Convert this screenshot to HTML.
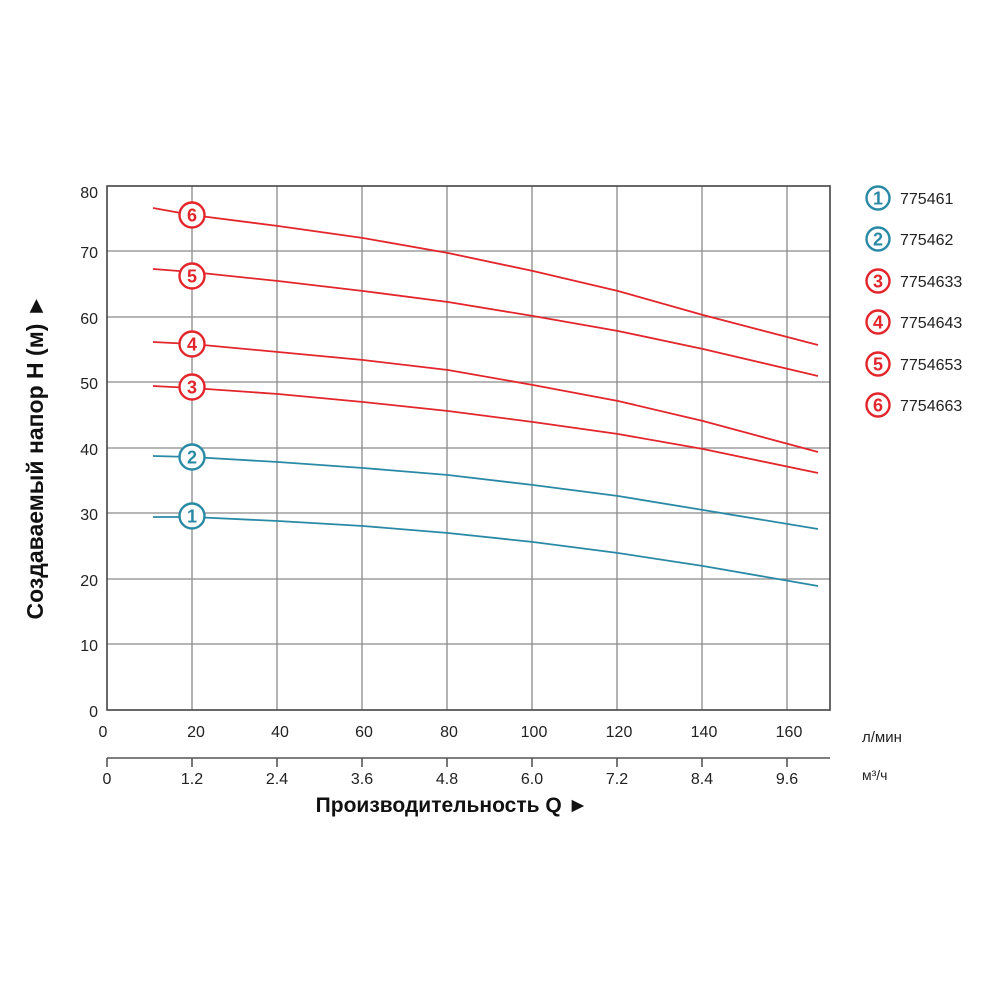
<!DOCTYPE html><html><head><meta charset="utf-8"><style>body{margin:0;background:#fff}svg{display:block}text{font-family:"Liberation Sans",Arial,sans-serif}</style></head><body>
<svg width="1000" height="1000" viewBox="0 0 1000 1000">
<g stroke="#8a8a8a" stroke-width="1.3">
<line x1="192" y1="186" x2="192" y2="710"/><line x1="277" y1="186" x2="277" y2="710"/><line x1="362" y1="186" x2="362" y2="710"/><line x1="447" y1="186" x2="447" y2="710"/><line x1="532" y1="186" x2="532" y2="710"/><line x1="617" y1="186" x2="617" y2="710"/><line x1="702" y1="186" x2="702" y2="710"/><line x1="787" y1="186" x2="787" y2="710"/>
<line x1="107" y1="644" x2="830" y2="644"/><line x1="107" y1="579" x2="830" y2="579"/><line x1="107" y1="513" x2="830" y2="513"/><line x1="107" y1="448" x2="830" y2="448"/><line x1="107" y1="382" x2="830" y2="382"/><line x1="107" y1="317" x2="830" y2="317"/><line x1="107" y1="251" x2="830" y2="251"/>
</g>
<rect x="107" y="186" width="723" height="524" fill="none" stroke="#444" stroke-width="1.6"/>
<g stroke="#555" stroke-width="1.6"><line x1="107" y1="758" x2="830" y2="758"/>
<line x1="107" y1="758" x2="107" y2="767"/><line x1="192" y1="758" x2="192" y2="767"/><line x1="277" y1="758" x2="277" y2="767"/><line x1="362" y1="758" x2="362" y2="767"/><line x1="447" y1="758" x2="447" y2="767"/><line x1="532" y1="758" x2="532" y2="767"/><line x1="617" y1="758" x2="617" y2="767"/><line x1="702" y1="758" x2="702" y2="767"/><line x1="787" y1="758" x2="787" y2="767"/></g>
<g font-size="16" fill="#222" text-anchor="end">
<text x="98" y="198">80</text><text x="98" y="258">70</text><text x="98" y="324">60</text><text x="98" y="389">50</text><text x="98" y="455">40</text><text x="98" y="520">30</text><text x="98" y="586">20</text><text x="98" y="651">10</text><text x="98" y="717">0</text></g>
<g font-size="16" fill="#222" text-anchor="middle">
<text x="103" y="737">0</text><text x="196" y="737">20</text><text x="280" y="737">40</text><text x="364" y="737">60</text><text x="449" y="737">80</text><text x="534" y="737">100</text><text x="619" y="737">120</text><text x="704" y="737">140</text><text x="789" y="737">160</text>
<text x="107" y="784">0</text><text x="192" y="784">1.2</text><text x="277" y="784">2.4</text><text x="362" y="784">3.6</text><text x="447" y="784">4.8</text><text x="532" y="784">6.0</text><text x="617" y="784">7.2</text><text x="702" y="784">8.4</text><text x="787" y="784">9.6</text></g>
<text x="862" y="742" font-size="15" fill="#222">л/мин</text>
<text x="862" y="780" font-size="14" fill="#222">м³/ч</text>
<text x="452" y="812" font-size="21" font-weight="bold" fill="#111" text-anchor="middle">Производительность Q ►</text>
<text transform="translate(43,457) rotate(-90)" font-size="23" font-weight="bold" fill="#111" text-anchor="middle">Создаваемый напор H (м) ►</text>
<g fill="none" stroke-width="1.8">
<polyline stroke="#e2262b" points="153,208 192,215 278,226 363,238 448,253 533,271 618,291 703,315 818,345"/>
<polyline stroke="#e2262b" points="153,269 192,272 278,281 363,291 448,302 533,316 618,331 703,349 818,376"/>
<polyline stroke="#e2262b" points="153,342 192,344 278,352 363,360 448,370 533,385 618,401 703,421 818,452"/>
<polyline stroke="#e2262b" points="153,386 192,388 278,394 363,402 448,411 533,422 618,434 703,449 818,473"/>
<polyline stroke="#2a8aa6" points="153,456 192,457 278,462 363,468 448,475 533,485 618,496 703,510 818,529"/>
<polyline stroke="#2a8aa6" points="153,517 192,517 278,521 363,526 448,533 533,542 618,553 703,566 818,586"/>
</g>
<g stroke-width="2.4" fill="#fff" font-size="18" font-weight="bold" text-anchor="middle">
<circle cx="192" cy="215" r="12.5" stroke="#e2262b"/><text x="192" y="221.5" fill="#e2262b" stroke="none">6</text>
<circle cx="192" cy="276" r="12.5" stroke="#e2262b"/><text x="192" y="282.5" fill="#e2262b" stroke="none">5</text>
<circle cx="192" cy="344" r="12.5" stroke="#e2262b"/><text x="192" y="350.5" fill="#e2262b" stroke="none">4</text>
<circle cx="192" cy="387" r="12.5" stroke="#e2262b"/><text x="192" y="393.5" fill="#e2262b" stroke="none">3</text>
<circle cx="192" cy="457" r="12.5" stroke="#2a8aa6"/><text x="192" y="463.5" fill="#2a8aa6" stroke="none">2</text>
<circle cx="192" cy="516" r="12.5" stroke="#2a8aa6"/><text x="192" y="522.5" fill="#2a8aa6" stroke="none">1</text>
<circle cx="878" cy="198" r="11.5" stroke="#2a8aa6"/><text x="878" y="204.5" fill="#2a8aa6" stroke="none">1</text>
<circle cx="878" cy="239" r="11.5" stroke="#2a8aa6"/><text x="878" y="245.5" fill="#2a8aa6" stroke="none">2</text>
<circle cx="878" cy="281" r="11.5" stroke="#e2262b"/><text x="878" y="287.5" fill="#e2262b" stroke="none">3</text>
<circle cx="878" cy="322" r="11.5" stroke="#e2262b"/><text x="878" y="328.5" fill="#e2262b" stroke="none">4</text>
<circle cx="878" cy="364" r="11.5" stroke="#e2262b"/><text x="878" y="370.5" fill="#e2262b" stroke="none">5</text>
<circle cx="878" cy="405" r="11.5" stroke="#e2262b"/><text x="878" y="411.5" fill="#e2262b" stroke="none">6</text>
</g>
<g font-size="16" fill="#222">
<text x="900" y="204">775461</text><text x="900" y="245">775462</text><text x="900" y="287">7754633</text><text x="900" y="328">7754643</text><text x="900" y="370">7754653</text><text x="900" y="411">7754663</text></g>
</svg></body></html>
